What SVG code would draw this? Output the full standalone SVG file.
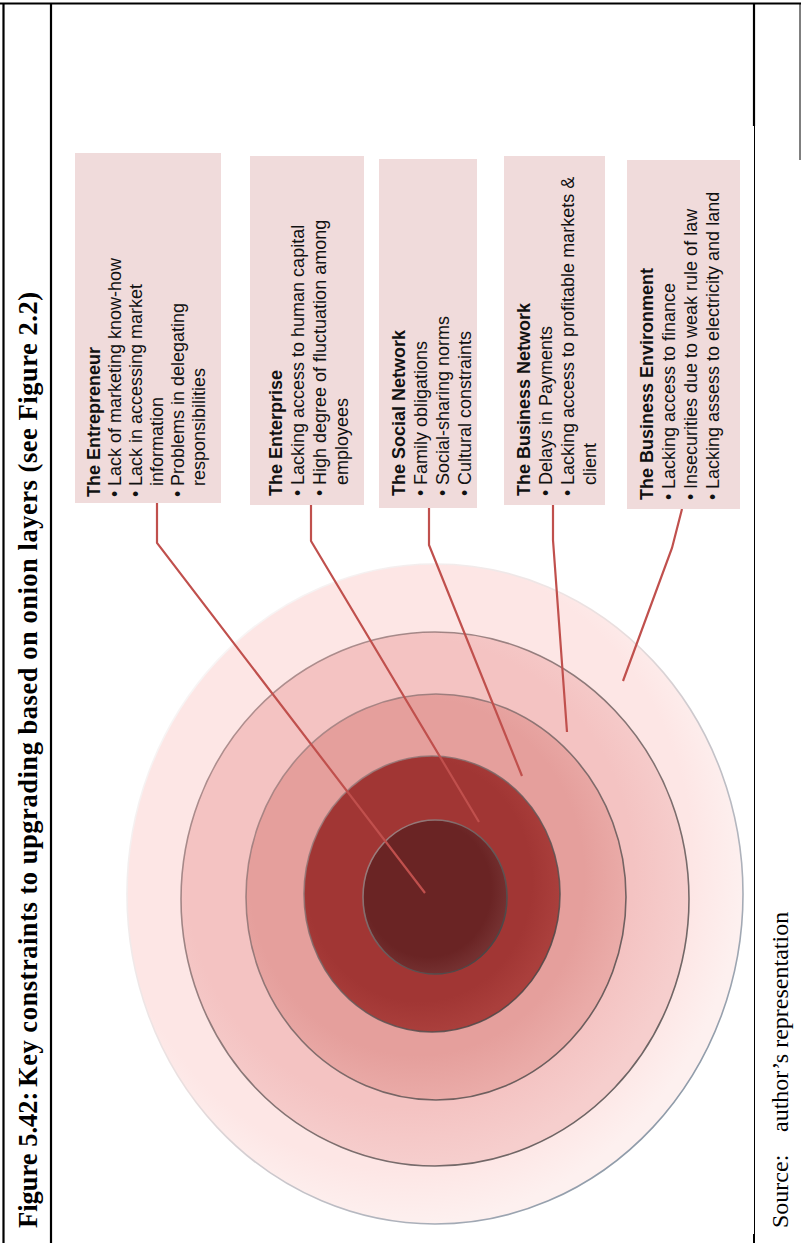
<svg xmlns="http://www.w3.org/2000/svg" width="801" height="1243" viewBox="0 0 801 1243">
<style>
.frame{stroke:#000;fill:none}
.box{fill:#f0dbdb}
.bt{font-family:"Liberation Sans",Arial,sans-serif;font-size:18px;fill:#111}
.bh{font-weight:bold}
.cap{font-family:"Liberation Serif","Times New Roman",serif;fill:#000}
.conn{stroke:#c0504d;stroke-width:2.2;fill:none}
.ring{stroke-width:1.6}
</style>
<defs>
<radialGradient id="g1" cx="45%" cy="45%" r="55%">
<stop offset="0.85" stop-color="#fde6e5"/><stop offset="1" stop-color="#fdf0ef"/>
</radialGradient>
<radialGradient id="g2" cx="45%" cy="45%" r="55%">
<stop offset="0.8" stop-color="#f4c3c2"/><stop offset="1" stop-color="#f6cecd"/>
</radialGradient>
<radialGradient id="g3" cx="45%" cy="45%" r="55%">
<stop offset="0.8" stop-color="#e59f9c"/><stop offset="1" stop-color="#eaaba8"/>
</radialGradient>
<radialGradient id="g4" cx="45%" cy="45%" r="55%">
<stop offset="0.8" stop-color="#a13634"/><stop offset="1" stop-color="#aa3f3c"/>
</radialGradient>
<radialGradient id="g5" cx="45%" cy="45%" r="55%">
<stop offset="0.8" stop-color="#6a2424"/><stop offset="1" stop-color="#743030"/>
</radialGradient>
<linearGradient id="s1" x1="0" y1="0" x2="1" y2="1">
<stop offset="0" stop-color="#ffffff"/><stop offset="0.45" stop-color="#e9dede"/><stop offset="1" stop-color="#6f8396"/>
</linearGradient>
<linearGradient id="sd" x1="0" y1="0" x2="1" y2="1">
<stop offset="0" stop-color="#b08a8a"/><stop offset="0.5" stop-color="#6a5c5c"/><stop offset="1" stop-color="#3d3d3d"/>
</linearGradient>
</defs>

<g id="frame">
<line class="frame" x1="0" y1="3.5" x2="801" y2="3.5" stroke-width="2.2"/>
<line class="frame" x1="3.5" y1="3" x2="3.5" y2="1243" stroke-width="2.2"/>
<line class="frame" x1="51" y1="3" x2="51" y2="1243" stroke-width="2.2"/>
<line class="frame" x1="754" y1="3" x2="754" y2="126" stroke-width="2.2"/>
<line class="frame" x1="754.5" y1="126" x2="754.5" y2="1234" stroke-width="1"/>
<line class="frame" x1="754" y1="1234" x2="754" y2="1243" stroke-width="2"/>
<line class="frame" x1="800" y1="3" x2="800" y2="160" stroke-width="1"/>
</g>

<g id="title">
<text class="cap" font-weight="bold" font-size="26.5" transform="translate(37,1228) rotate(-90)">Figure 5.42:<tspan x="141" textLength="795" lengthAdjust="spacing">Key constraints to upgrading based on onion layers (see Figure 2.2)</tspan></text>
</g>
<g id="source">
<text class="cap" font-size="24" transform="translate(788,1228) rotate(-90)">Source:<tspan x="96">author’s representation</tspan></text>
</g>

<g id="onion">
<ellipse class="ring" cx="435" cy="894" rx="308" ry="330" fill="url(#g1)" stroke="url(#s1)" stroke-width="2.2"/>
<ellipse class="ring" cx="435" cy="899" rx="254" ry="267" fill="url(#g2)" stroke="url(#sd)" stroke-opacity="0.8"/>
<ellipse class="ring" cx="436" cy="897" rx="190" ry="203" fill="url(#g3)" stroke="url(#sd)" stroke-opacity="0.8"/>
<ellipse class="ring" cx="432" cy="894" rx="128" ry="138" fill="url(#g4)" stroke="url(#sd)" stroke-opacity="0.85"/>
<ellipse class="ring" cx="435" cy="897" rx="72" ry="77" fill="url(#g5)" stroke="url(#sd)"/>
</g>

<g id="connectors">
<polyline class="conn" points="157,503 157,543 425,893"/>
<polyline class="conn" points="311,505 311,541 479,822"/>
<polyline class="conn" points="429,508 429,545 522,776"/>
<polyline class="conn" points="553,505 553,540 567,732"/>
<polyline class="conn" points="682,509 672,548 623,681"/>
</g>

<g id="entrepreneur">
<rect class="box" x="75" y="153" width="146" height="350"/>
<g class="bt" transform="translate(100,497) rotate(-90)">
<text class="bh" x="0" y="0">The Entrepreneur</text>
<text x="0" y="21">•<tspan x="11">Lack of marketing know-how</tspan></text>
<text x="0" y="42">•<tspan x="11">Lack in accessing market</tspan></text>
<text x="11" y="63">information</text>
<text x="0" y="84">•<tspan x="11">Problems in delegating</tspan></text>
<text x="11" y="105">responsibilities</text>
</g>
</g>

<g id="enterprise">
<rect class="box" x="250" y="156" width="114" height="349"/>
<g class="bt" transform="translate(282,496) rotate(-90)">
<text class="bh" x="0" y="0">The Enterprise</text>
<text x="0" y="22">•<tspan x="11">Lacking access to human capital</tspan></text>
<text x="0" y="44">•<tspan x="11">High degree of fluctuation among</tspan></text>
<text x="11" y="66">employees</text>
</g>
</g>

<g id="social-network">
<rect class="box" x="379" y="159" width="98" height="349"/>
<g class="bt" transform="translate(405,496) rotate(-90)">
<text class="bh" x="0" y="0">The Social Network</text>
<text x="0" y="22">•<tspan x="11">Family obligations</tspan></text>
<text x="0" y="44">•<tspan x="11">Social-sharing norms</tspan></text>
<text x="0" y="66">•<tspan x="11">Cultural constraints</tspan></text>
</g>
</g>

<g id="business-network">
<rect class="box" x="504" y="156" width="101" height="349"/>
<g class="bt" transform="translate(530,496) rotate(-90)">
<text class="bh" x="0" y="0">The Business Network</text>
<text x="0" y="22">•<tspan x="11">Delays in Payments</tspan></text>
<text x="0" y="44">•<tspan x="11">Lacking access to profitable markets &amp;</tspan></text>
<text x="11" y="66">client</text>
</g>
</g>

<g id="business-environment">
<rect class="box" x="627" y="160" width="113" height="349"/>
<g class="bt" transform="translate(653,500) rotate(-90)">
<text class="bh" x="0" y="0">The Business Environment</text>
<text x="0" y="22">•<tspan x="11">Lacking access to finance</tspan></text>
<text x="0" y="44">•<tspan x="11">Insecurities due to weak rule of law</tspan></text>
<text x="0" y="66">•<tspan x="11">Lacking assess to electricity and land</tspan></text>
</g>
</g>
</svg>
